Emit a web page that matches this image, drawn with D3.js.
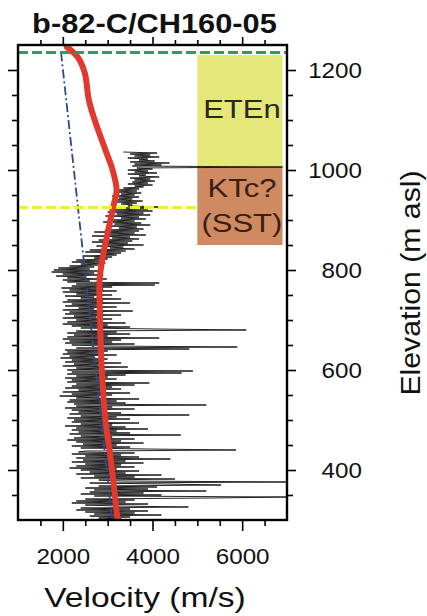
<!DOCTYPE html>
<html><head><meta charset="utf-8">
<script src="https://cdn.jsdelivr.net/npm/d3@7"></script>
<style>
html,body{margin:0;padding:0;background:#fff;}
svg{display:block;}
text{font-family:"Liberation Sans",Arial,Helvetica,sans-serif;fill:#111;}
</style>
</head><body>
<svg id="c" width="427" height="616"></svg>
<script>
// ---------------- data ----------------
const chartTitle = "b-82-C/CH160-05";
const xLabel = "Velocity (m/s)";
const yLabel = "Elevation (m asl)";
const xTickLabels = [2000, 4000, 6000];
const yTickLabels = [400, 600, 800, 1000, 1200];

// sonic log trace: elevation starts at traceTopElev, one sample every traceStep m downwards
const traceTopElev = 1036;
const traceStep = 2;
const traceVel = [
  3350,4100,3500,3950,3600,4150,3450,3900,3700,4050,
  3500,4380,3600,4200,3550,6900,3650,4000,3450,3900,
  3600,4100,3450,3850,3700,4150,3500,3950,3600,4050,
  3550,3900,3450,4000,3600,3800,3350,3700,3200,3650,
  3150,3750,3300,3600,3100,3700,3250,3550,3150,3780,
  3200,3650,3300,3550,3450,4300,3350,3900,3050,4000,
  3000,3800,3200,3950,2950,3700,3300,3850,3100,3600,
  2900,3750,3150,3950,3050,3650,3250,3800,2950,3700,
  2700,3600,3000,3850,2650,3500,3100,3700,2800,3550,
  2650,3450,2900,3800,2750,3350,3050,3600,2600,3400,
  2500,3300,2850,3200,2450,3100,2700,3000,2300,2900,
  2200,2950,2400,2800,2150,2700,1900,2600,1800,2850,
  1750,2700,2000,2900,1850,2500,2100,2980,2000,2600,
  2100,4150,2300,4050,2200,3100,1970,2900,2150,3200,
  2000,2800,2300,3100,2050,2700,2400,3300,2100,2900,
  2000,3500,2200,2800,2050,3200,2350,2700,2000,3560,
  2150,2900,2050,3300,2250,2750,2000,3100,2300,2800,
  2100,3400,2000,3000,2200,3500,2400,4100,6090,2300,
  3200,2100,3500,2250,3000,2100,4150,2000,3300,2150,
  3100,2050,3600,2200,2900,5890,2300,4820,2050,3000,
  2100,2800,2000,3200,2150,2700,1950,3000,2200,2900,
  2050,3300,2250,2800,2000,3450,2300,2900,2100,4900,
  2200,4650,2100,3400,2300,3000,2050,3200,2200,2850,
  2100,3930,2300,3600,2200,3100,2050,3300,2350,2900,
  2000,3500,2200,3100,1930,2800,2300,3700,2150,3200,
  2100,3400,2250,5200,2300,3100,2050,3600,2200,2900,
  2350,3300,2150,4820,2400,3200,2100,3500,2250,3000,
  2200,3700,2400,3100,2050,3400,2300,3900,2200,3200,
  2350,3500,2150,4630,2400,3100,2250,3600,2100,3300,
  2300,3800,2450,3200,2200,3500,2400,3900,5860,2500,
  2350,3600,2200,3300,2500,3700,2300,4400,2450,3400,
  2200,3800,2500,3300,2300,3600,2150,3200,2400,3700,
  2600,3400,2300,4200,2700,3600,2400,4500,2800,3300,
  7000,2600,4300,5530,2800,4100,2500,3900,2700,5200,
  2600,3800,2400,4200,2700,7000,5300,2500,3600,2300,
  3400,2200,3900,2500,3200,4800,2400,3500,2300,3900,
  2500,3600,2700,4200,2600,3500,2800,3300,2900
];

// smoothed velocity (red)
const smoothElev = [1246,1226,1194,1140,1100,1040,1000,960,940,920,874,826,780,700,600,500,420,300];
const smoothVel  = [2090,2330,2490,2580,2710,2950,3110,3200,3160,3110,3000,2890,2820,2830,2870,2950,3070,3220];

// velocity trend (blue dash-dot)
const trendElev = [1235, 300];
const trendVel  = [1960, 3100];

// geological units
const unitNames   = [["ETEn"], ["KTc?", "(SST)"]];
const unitTop     = [1230, 1006];
const unitBottom  = [1006, 850];
const unitVelMin  = [5000, 5000];
const unitVelMax  = [6900, 6900];
const unitColors  = ["#e4e87a", "#cf8a62"];

// reference levels
const greenLevel = 1235;
const yellowLevel = 925;

// ---------------- drawing ----------------
const svg = d3.select("#c");
const L = 18, R = 287, T = 45, B = 520;
const x = d3.scaleLinear().domain([1000, 7000]).range([L, R]);
const y = d3.scaleLinear().domain([300, 1250]).range([B, T]);

function stretch(sel, f) {
  sel.each(function() {
    const w = this.getComputedTextLength();
    d3.select(this).attr("textLength", w * f).attr("lengthAdjust", "spacingAndGlyphs");
  });
}

svg.append("defs").append("clipPath").attr("id", "plot")
  .append("rect").attr("x", L).attr("y", T).attr("width", R - L).attr("height", B - T);

const plot = svg.append("g").attr("clip-path", "url(#plot)");

// unit boxes
unitNames.forEach((nm, i) => {
  plot.append("rect")
    .attr("x", x(unitVelMin[i])).attr("y", y(unitTop[i]))
    .attr("width", x(unitVelMax[i]) - x(unitVelMin[i]))
    .attr("height", y(unitBottom[i]) - y(unitTop[i]))
    .attr("fill", unitColors[i]);
});

// trace
const trace = traceVel.map((v, i) => ({ e: traceTopElev - i * traceStep, v }));
const line = d3.line().x(d => x(d.v)).y(d => y(d.e));
plot.append("path").datum(trace)
  .attr("d", line).attr("fill", "none").attr("stroke", "#000")
  .attr("stroke-width", 0.85).attr("stroke-linejoin", "miter");

// trend line
const trend = trendElev.map((e, i) => ({ e, v: trendVel[i] }));
plot.append("path").datum(trend).attr("d", line)
  .attr("fill", "none").attr("stroke", "#2c4a8c").attr("stroke-width", 1.8)
  .attr("stroke-dasharray", "9,3,2,3");

// smoothed red
const smooth = smoothElev.map((e, i) => ({ e, v: smoothVel[i] }));
plot.append("path").datum(smooth)
  .attr("d", d3.line().x(d => x(d.v)).y(d => y(d.e)).curve(d3.curveCatmullRom))
  .attr("fill", "none").attr("stroke", "#e2392e").attr("stroke-width", 6)
  .attr("stroke-linecap", "round");

// yellow dashed
plot.append("line").attr("x1", x(1000)).attr("x2", x(unitVelMin[0]))
  .attr("y1", y(yellowLevel)).attr("y2", y(yellowLevel))
  .attr("stroke", "#eeee30").attr("stroke-width", 3).attr("stroke-dasharray", "10,4");

// green dashed
plot.append("line").attr("x1", x(1000)).attr("x2", x(7000))
  .attr("y1", y(greenLevel)).attr("y2", y(greenLevel))
  .attr("stroke", "#2e9d5b").attr("stroke-width", 2.8).attr("stroke-dasharray", "10,4");

// unit labels
const unitLabelBase = [[118], [197, 232]];
unitNames.forEach((nm, i) => {
  nm.forEach((s, j) => {
    const t = svg.append("text")
      .attr("x", (x(unitVelMin[i]) + x(unitVelMax[i])) / 2 + 2)
      .attr("y", unitLabelBase[i][j])
      .attr("text-anchor", "middle")
      .attr("font-size", 25).style("fill", i === 0 ? "#2a2a1a" : "#3a1f12")
      .text(s);
    stretch(t, 1.24);
  });
});

// axes
const minorX = d3.range(1500, 7000, 500).filter(v => !xTickLabels.includes(v));
const minorY = d3.range(350, 1250, 50).filter(v => !yTickLabels.includes(v));

function styleAxis(g) {
  g.select(".domain").remove();
  g.selectAll(".tick line").attr("stroke", "#000").attr("stroke-width", 1.6);
}
svg.append("g").attr("transform", `translate(0,${T})`)
  .call(d3.axisTop(x).tickValues(minorX).tickSize(5).tickFormat("")).call(styleAxis);
svg.append("g").attr("transform", `translate(0,${T})`)
  .call(d3.axisTop(x).tickValues(xTickLabels).tickSize(8).tickFormat("")).call(styleAxis);
svg.append("g").attr("transform", `translate(0,${B})`)
  .call(d3.axisBottom(x).tickValues(minorX).tickSize(6).tickFormat("")).call(styleAxis);
const bx = svg.append("g").attr("transform", `translate(0,${B})`)
  .call(d3.axisBottom(x).tickValues(xTickLabels).tickSize(11).tickFormat(d3.format("d"))).call(styleAxis);
bx.selectAll("text").attr("y", 44).attr("dy", null).attr("font-size", 22).style("fill", "#111")
  .attr("font-family", null);
stretch(bx.selectAll("text"), 1.1);

svg.append("g").attr("transform", `translate(${L},0)`)
  .call(d3.axisLeft(y).tickValues(minorY).tickSize(6).tickFormat("")).call(styleAxis);
svg.append("g").attr("transform", `translate(${L},0)`)
  .call(d3.axisLeft(y).tickValues(yTickLabels).tickSize(10).tickFormat("")).call(styleAxis);
svg.append("g").attr("transform", `translate(${R},0)`)
  .call(d3.axisRight(y).tickValues(minorY).tickSize(6).tickFormat("")).call(styleAxis);
const ry = svg.append("g").attr("transform", `translate(${R},0)`)
  .call(d3.axisRight(y).tickValues(yTickLabels).tickSize(9).tickFormat(d3.format("d"))).call(styleAxis);
ry.selectAll("text").attr("x", 75).attr("text-anchor", "end").attr("dy", "0.36em")
  .attr("font-size", 22).style("fill", "#111").attr("font-family", null);
ry.attr("text-anchor", "end");
stretch(ry.selectAll("text"), 1.1);

// frame
svg.append("rect").attr("x", L).attr("y", T).attr("width", R - L).attr("height", B - T)
  .attr("fill", "none").attr("stroke", "#000").attr("stroke-width", 2.4);

// titles
const tt = svg.append("text").attr("x", 154.5).attr("y", 33).attr("text-anchor", "middle")
  .attr("font-size", 28).attr("font-weight", "bold").text(chartTitle);
stretch(tt, 1.1);
const xt = svg.append("text").attr("x", 145).attr("y", 607).attr("text-anchor", "middle")
  .attr("font-size", 28).text(xLabel);
stretch(xt, 1.2);
const yt = svg.append("text").attr("transform", "translate(420,283) rotate(-90)")
  .attr("text-anchor", "middle").attr("font-size", 28).text(yLabel);
stretch(yt, 1.08);
</script>
</body></html>
